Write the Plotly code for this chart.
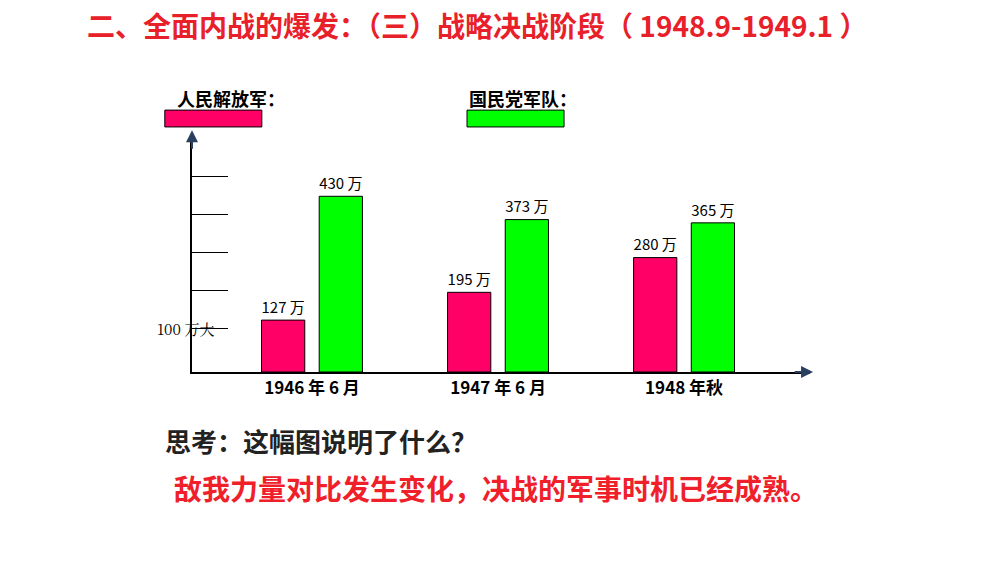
import plotly.graph_objects as go

# chart data
periods = ['1946 年 6 月', '1947 年 6 月', '1948 年秋']
pla_troops = [127, 195, 280]        # 人民解放军, 万
kmt_troops = [430, 373, 365]        # 国民党军队, 万
tick_positions = [107, 200, 293, 386, 479]

font_cjk = 'Noto Sans CJK SC, Arial'
red = '#FF0066'
green = '#00FF00'

fig = go.Figure()
fig.add_trace(go.Bar(
    x=periods, y=pla_troops, name='人民解放军',
    marker=dict(color=red, line=dict(color='black', width=1)),
    text=[f'{v} 万' for v in pla_troops], textposition='outside',
    textfont=dict(size=18, color='black', family=font_cjk), cliponaxis=False
))
fig.add_trace(go.Bar(
    x=periods, y=kmt_troops, name='国民党军队',
    marker=dict(color=green, line=dict(color='black', width=1)),
    text=[f'{v} 万' for v in kmt_troops], textposition='outside',
    textfont=dict(size=18, color='black', family=font_cjk), cliponaxis=False
))

fig.update_layout(
    width=1000, height=563,
    margin=dict(l=184, r=198, t=127, b=199),
    paper_bgcolor='white', plot_bgcolor='white',
    showlegend=False,
    barmode='group', bargap=0.38, bargroupgap=0.25,
    font=dict(family=font_cjk),
    xaxis=dict(
        type='category', range=[-0.645, 2.677],
        showline=True, linecolor='black', linewidth=2,
        ticks='', showgrid=False,
        tickfont=dict(size=17, color='black', family=font_cjk, weight='bold'),
    ),
    yaxis=dict(
        range=[0, 580], showline=True, linecolor='black', linewidth=2,
        showgrid=False, zeroline=False,
        tickvals=tick_positions, ticks='inside', ticklen=36,
        tickcolor='black', tickwidth=1, showticklabels=False,
    ),
)

# axis arrowheads
fig.add_annotation(x=0, y=1.02, xref='paper', yref='paper', ax=0, ay=20,
                   showarrow=True, arrowhead=2, arrowsize=1.2, arrowwidth=2, text='')
fig.add_annotation(x=1.005, y=0, xref='paper', yref='paper', ax=-20, ay=0,
                   showarrow=True, arrowhead=2, arrowsize=1.2, arrowwidth=2, text='')

fig.add_annotation(x=-0.01, y=tick_positions[0], xref='paper', yref='y', xanchor='center',
                   text='100 万大', showarrow=False,
                   font=dict(size=15, color='black', family='Noto Serif CJK SC, serif'))

# title
fig.add_annotation(x=-0.173, y=1.464, xref='paper', yref='paper', xanchor='left', yanchor='middle',
                   text='二、全面内战的爆发：（三）战略决战阶段（ 1948.9-1949.1 ）',
                   showarrow=False, font=dict(size=28, color='#E8202A', family=font_cjk, weight='bold'))

# legend
fig.add_annotation(x=-0.028, y=1.156, xref='paper', yref='paper', xanchor='left', yanchor='middle',
                   text='人民解放军：', showarrow=False,
                   font=dict(size=18, color='black', family=font_cjk, weight='bold'))
fig.add_annotation(x=0.445, y=1.156, xref='paper', yref='paper', xanchor='left', yanchor='middle',
                   text='国民党军队：', showarrow=False,
                   font=dict(size=18, color='black', family=font_cjk, weight='bold'))
fig.add_shape(type='rect', xref='paper', yref='paper', x0=-0.044, x1=0.113, y0=1.034, y1=1.105,
              fillcolor=red, line=dict(color='black', width=1))
fig.add_shape(type='rect', xref='paper', yref='paper', x0=0.445, x1=0.602, y0=1.034, y1=1.105,
              fillcolor=green, line=dict(color='black', width=1))

# bottom text
fig.add_annotation(x=-0.047, y=-0.291, xref='paper', yref='paper', xanchor='left', yanchor='middle',
                   text='思考：这幅图说明了什么？', showarrow=False,
                   font=dict(size=26, color='#222222', family=font_cjk, weight='bold'))
fig.add_annotation(x=-0.032, y=-0.489, xref='paper', yref='paper', xanchor='left', yanchor='middle',
                   text='敌我力量对比发生变化，决战的军事时机已经成熟。', showarrow=False,
                   font=dict(size=28, color='#F0202A', family=font_cjk, weight='bold'))

fig.write_html('out.html')
